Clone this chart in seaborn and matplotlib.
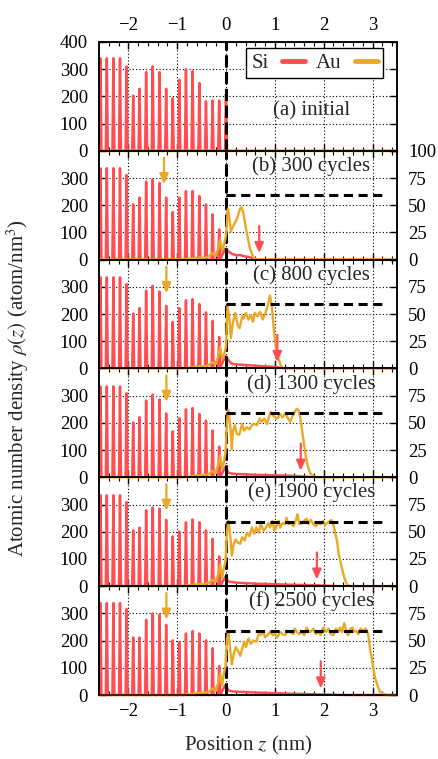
import numpy as np
import matplotlib
matplotlib.use("Agg")
import matplotlib.pyplot as plt
from matplotlib.lines import Line2D
import seaborn as sns

# ---------------------------------------------------------------------------
# Data
# ---------------------------------------------------------------------------
# Si layer positions (nm); the last layer (z = 0) only exists initially
si_layer_z = [-2.57, -2.44, -2.305, -2.17, -2.035, -1.90, -1.77, -1.635, -1.50, -1.36,
              -1.225, -1.09, -0.955, -0.82, -0.685, -0.545, -0.41, -0.275, -0.14, 0.0]

# Si peak densities per layer (atom/nm^3, left axis)
si_peaks_a = [340, 340, 340, 340, 310, 203, 228, 289, 310, 289,
              228, 193, 261, 300, 293, 249, 182, 185, 185, 209]
si_peaks_b = [336, 336, 336, 336, 311, 203, 228, 287, 295, 282,
              228, 175, 228, 252, 252, 234, 203, 166, 111]
si_peaks_c = [335, 335, 335, 335, 310, 202, 222, 286, 304, 283,
              230, 171, 222, 251, 255, 237, 206, 175, 116]
si_peaks_d = [334, 334, 334, 334, 309, 202, 221, 282, 304, 286,
              235, 169, 217, 250, 255, 233, 208, 172, 113]
si_peaks_e = [334, 334, 334, 334, 309, 205, 215, 279, 289, 285,
              244, 183, 201, 235, 245, 235, 205, 174, 109]
si_peaks_f = [338, 338, 338, 338, 316, 211, 211, 276, 300, 295,
              258, 201, 193, 226, 235, 226, 201, 172, 106]

# Si diffused into the Au film (left axis)
si_tail_z_b = [-0.02, 0.05, 0.12, 0.22, 0.29, 0.36, 0.46, 0.56, 0.65]
si_tail_rho_b = [40, 31, 21, 16, 17, 13, 10, 5, 0]
si_tail_z_c = [-0.02, 0.05, 0.12, 0.29, 0.45, 0.63, 0.80, 0.97, 1.10, 1.20]
si_tail_rho_c = [45, 31, 17, 14, 12, 10, 8, 6, 3, 0]
si_tail_z_d = [-0.02, 0.05, 0.14, 0.40, 0.63, 0.90, 1.30, 1.60, 1.80]
si_tail_rho_d = [36, 17, 13, 11, 9, 8, 6, 3, 0]
si_tail_z_e = [-0.02, 0.05, 0.20, 0.63, 1.00, 1.40, 1.90, 2.30]
si_tail_rho_e = [33, 17, 13, 9, 7, 5, 3, 0]
si_tail_z_f = [-0.02, 0.05, 0.14, 0.63, 1.30, 1.90, 2.50]
si_tail_rho_f = [35, 17, 13, 9, 5, 2, 0]

# Au density profiles (atom/nm^3, right axis)
au_z_a = [-2.6, 3.5]
au_rho_a = [0, 0]

au_z_b = [-2.6, -0.9, -0.7, -0.55, -0.45, -0.35, -0.28, -0.22, -0.16, -0.12, -0.08, -0.04,
          0.0, 0.04, 0.07, 0.10, 0.15, 0.22, 0.29, 0.32, 0.35, 0.42, 0.49, 0.56, 0.62, 3.5]
au_rho_b = [0, 0, 1, 2, 1.5, 3, 6, 3, 10, 18, 8, 14,
            22, 47, 38, 26, 31, 37, 47, 48, 44, 26, 10, 2, 0, 0]

au_z_c = [-2.6, -0.9, -0.7, -0.55, -0.45, -0.35, -0.28, -0.22, -0.16, -0.12,
          -0.08, -0.05, 0.0, 0.03, 0.07, 0.10, 0.14, 0.19, 0.24, 0.28,
          0.33, 0.36, 0.41, 0.46, 0.51, 0.55, 0.59, 0.64, 0.70, 0.75,
          0.80, 0.85, 0.90, 0.94, 0.98, 1.02, 1.07, 1.12, 1.17, 3.5]
au_rho_c = [0, 0, 1, 2, 2, 3, 6, 4, 11, 20,
            9, 11, 20, 57, 45, 28, 42, 51, 40, 37,
            48, 46, 51, 45, 49, 43, 51, 48, 52, 45,
            50, 57, 67, 57, 35, 20, 9, 3, 0, 0]

au_z_d = [-2.6, -0.9, -0.7, -0.55, -0.45, -0.35, -0.28, -0.22, -0.16, -0.12,
          -0.08, -0.05, -0.01, 0.02, 0.05, 0.09, 0.12, 0.14, 0.18, 0.22,
          0.27, 0.33, 0.37, 0.43, 0.48, 0.53, 0.58, 0.63, 0.69, 0.73,
          0.78, 0.84, 0.89, 0.92, 0.96, 1.01, 1.05, 1.11, 1.16, 1.21,
          1.26, 1.31, 1.35, 1.39, 1.45, 1.48, 1.52, 1.57, 1.62, 1.67,
          1.72, 1.79, 1.86, 3.5]
au_rho_d = [0, 0, 1, 2, 2, 3, 6, 4, 11, 20,
            8, 12, 23, 51, 62, 45, 26, 42, 48, 40,
            39, 49, 43, 46, 44, 48, 49, 48, 54, 51,
            54, 49, 57, 60, 57, 55, 54, 58, 55, 59,
            55, 51, 55, 59, 63, 62, 55, 39, 23, 11,
            4, 1, 0, 0]

au_z_e = [-2.6, -0.9, -0.7, -0.55, -0.45, -0.35, -0.28, -0.22, -0.16, -0.12,
          -0.08, -0.05, -0.01, 0.02, 0.05, 0.09, 0.12, 0.16, 0.20, 0.24,
          0.29, 0.33, 0.38, 0.43, 0.48, 0.53, 0.58, 0.62, 0.67, 0.71,
          0.77, 0.82, 0.87, 0.90, 0.95, 0.99, 1.03, 1.08, 1.11, 1.16,
          1.21, 1.24, 1.28, 1.33, 1.38, 1.44, 1.46, 1.50, 1.55, 1.60,
          1.65, 1.69, 1.73, 1.79, 1.84, 1.89, 1.94, 1.99, 2.03, 2.07,
          2.13, 2.16, 2.21, 2.27, 2.31, 2.37, 2.42, 2.47, 2.54, 3.5]
au_rho_e = [0, 0, 1, 2, 2, 3, 6, 4, 11, 20,
            8, 15, 23, 51, 60, 45, 28, 39, 43, 40,
            39, 45, 42, 49, 46, 54, 48, 54, 49, 57,
            51, 54, 58, 54, 60, 51, 55, 60, 54, 58,
            57, 63, 57, 58, 55, 62, 66, 57, 58, 60,
            62, 57, 61, 57, 55, 58, 57, 60, 56, 58,
            60, 61, 54, 42, 29, 17, 8, 2, 0, 0]

au_z_f = [-2.6, -0.9, -0.7, -0.55, -0.45, -0.35, -0.28, -0.22, -0.16, -0.12,
          -0.08, -0.05, -0.01, 0.02, 0.05, 0.09, 0.12, 0.16, 0.20, 0.24,
          0.29, 0.33, 0.37, 0.41, 0.46, 0.51, 0.56, 0.62, 0.67, 0.71,
          0.76, 0.80, 0.85, 0.90, 0.96, 1.01, 1.05, 1.11, 1.16, 1.21,
          1.26, 1.31, 1.37, 1.41, 1.45, 1.50, 1.55, 1.60, 1.65, 1.69,
          1.73, 1.79, 1.84, 1.89, 1.94, 1.99, 2.05, 2.10, 2.14, 2.20,
          2.25, 2.30, 2.33, 2.37, 2.42, 2.46, 2.50, 2.55, 2.59, 2.62,
          2.66, 2.71, 2.76, 2.81, 2.86, 2.91, 2.95, 2.98, 3.01, 3.05,
          3.10, 3.15, 3.22, 3.29, 3.5]
au_rho_f = [0, 0, 1, 2, 2, 3, 6, 4, 11, 20,
            9, 18, 27, 52, 58, 40, 28, 38, 44, 41,
            36, 42, 49, 44, 52, 47, 50, 49, 56, 55,
            58, 53, 55, 58, 55, 56, 53, 58, 56, 55,
            59, 58, 56, 61, 58, 56, 58, 55, 62, 59,
            58, 61, 56, 58, 55, 62, 58, 61, 56, 55,
            61, 58, 62, 58, 66, 59, 55, 61, 62, 58,
            59, 56, 61, 59, 61, 56, 42, 35, 26, 16,
            9, 3, 1, 0, 0]

panel_labels = ["(a) initial", "(b) 300 cycles", "(c) 800 cycles",
                "(d) 1300 cycles", "(e) 1900 cycles", "(f) 2500 cycles"]

# Markers: Au penetration depth in Si and Si front in Au (nm)
au_marker_z = [None, -1.27, -1.22, -1.22, -1.22, -1.22]
si_front_z = [None, 0.68, 1.05, 1.53, 1.86, 1.94]

au_bulk_density = 59  # atom/nm^3, bulk Au reference (right axis)
au_bulk_extent = [0.0, 3.25]

# ---------------------------------------------------------------------------
# Style
# ---------------------------------------------------------------------------
sns.set_theme(style="ticks")
plt.rcParams["font.family"] = ["Liberation Serif", "DejaVu Serif"]
plt.rcParams["mathtext.fontset"] = "stix"
plt.rcParams["axes.linewidth"] = 1.1

SI_COLOR = "#ff4d52"
AU_COLOR = "#e9a825"
TICK_FS = 13.5
LABEL_FS = 15

Z_MIN, Z_MAX = -2.6, 3.5


def si_profile(peaks, tail_z, tail_rho, half_width=0.02):
    """Build the Si density line from layer peaks plus the diffused tail."""
    z, rho = [Z_MIN], [0.0]
    for zc, h in zip(si_layer_z, peaks):
        z += [zc - half_width, zc, zc + half_width]
        rho += [0.0, h, 0.0]
    z += list(tail_z) + [Z_MAX]
    rho += list(tail_rho) + [0.0]
    return np.array(z), np.array(rho)


si_series = [
    si_profile(si_peaks_a, [], []),
    si_profile(si_peaks_b, si_tail_z_b, si_tail_rho_b),
    si_profile(si_peaks_c, si_tail_z_c, si_tail_rho_c),
    si_profile(si_peaks_d, si_tail_z_d, si_tail_rho_d),
    si_profile(si_peaks_e, si_tail_z_e, si_tail_rho_e),
    si_profile(si_peaks_f, si_tail_z_f, si_tail_rho_f),
]
au_series = [(au_z_a, au_rho_a), (au_z_b, au_rho_b), (au_z_c, au_rho_c),
             (au_z_d, au_rho_d), (au_z_e, au_rho_e), (au_z_f, au_rho_f)]

fig, axes = plt.subplots(6, 1, figsize=(4.39, 7.59), dpi=100, sharex=True)
fig.subplots_adjust(left=0.2255, right=0.9043, top=0.9447, bottom=0.0843, hspace=0)

arrow_style = "-|>,head_length=0.5,head_width=0.22"

for i, ax in enumerate(axes):
    si_z, si_rho = si_series[i]
    au_z, au_rho = au_series[i]

    ax.set_xlim(Z_MIN, Z_MAX)
    ax.set_ylim(0, 400)
    ax.set_facecolor("white")

    # dotted grid
    ax.grid(True, which="major", color="black", linestyle=(0, (1, 2)), linewidth=0.8)
    ax.set_axisbelow(True)

    sns.lineplot(x=si_z, y=si_rho, ax=ax, color=SI_COLOR, linewidth=1.8,
                 estimator=None, sort=False, legend=False, clip_on=False, zorder=2)

    # interface
    ax.axvline(0, color="black", linewidth=2.2, linestyle=(0, (4, 1.5)), zorder=3)

    ax.set_xticks([-2, -1, 0, 1, 2, 3])
    ax.set_xticks(np.arange(-2.6, 3.5001, 0.2), minor=True)
    ax.set_yticks([0, 100, 200, 300, 400])
    if i == 0:
        ax.set_yticklabels(["0", "100", "200", "300", "400"])
    else:
        ax.set_yticklabels(["0", "100", "200", "300", ""])
    ax.tick_params(axis="both", which="both", direction="in", top=True, bottom=True,
                   left=True, right=True, labelsize=TICK_FS, colors="black")
    ax.tick_params(axis="x", which="major", length=5, width=1)
    ax.tick_params(axis="x", which="minor", length=3, width=0.8)
    ax.tick_params(axis="y", which="major", length=5, width=1, pad=8)
    ax.tick_params(axis="x", which="major", pad=6,
                   labeltop=(i == 0), labelbottom=(i == len(axes) - 1))
    for sp in ax.spines.values():
        sp.set_color("black")
        sp.set_linewidth(1.1)
        sp.set_zorder(4)

    # Au on the right-hand axis
    ax2 = ax.twinx()
    ax2.set_ylim(0, 100)
    ax2.set_yticks([0, 25, 50, 75, 100])
    if i == 0:
        ax2.set_yticklabels([""] * 5)
    elif i == 1:
        ax2.set_yticklabels(["0", "25", "50", "75", "100"])
    else:
        ax2.set_yticklabels(["0", "25", "50", "75", ""])
    ax2.tick_params(axis="y", direction="in", length=5, width=1, pad=8,
                    labelsize=TICK_FS, colors="black")
    for sp in ax2.spines.values():
        sp.set_color("black")
        sp.set_linewidth(1.1)
        sp.set_zorder(4)
    ax2.grid(False)

    sns.lineplot(x=au_z, y=au_rho, ax=ax2, color=AU_COLOR, linewidth=1.7,
                 estimator=None, sort=False, legend=False, clip_on=False, zorder=2)

    if i > 0:
        ax2.plot(au_bulk_extent, [au_bulk_density] * 2, color="black", linewidth=2.2,
                 linestyle=(0, (3, 1.8)), zorder=3)
        ax.annotate("", xy=(au_marker_z[i], 277), xytext=(au_marker_z[i], 375),
                    arrowprops=dict(arrowstyle=arrow_style, color=AU_COLOR, lw=1.6,
                                    shrinkA=0, shrinkB=0, mutation_scale=12), zorder=5)
        ax2.annotate("", xy=(si_front_z[i], 6), xytext=(si_front_z[i], 31),
                     arrowprops=dict(arrowstyle=arrow_style, color=SI_COLOR, lw=1.6,
                                     shrinkA=0, shrinkB=0, mutation_scale=12), zorder=5)
        ax2.text(0.713, 0.86, panel_labels[i], transform=ax2.transAxes,
                 ha="center", va="center", fontsize=LABEL_FS, zorder=6)
    else:
        ax2.text(0.715, 0.37, panel_labels[i], transform=ax2.transAxes,
                 ha="center", va="center", fontsize=LABEL_FS, zorder=6)
        handles = [Line2D([], [], color=SI_COLOR, linewidth=3.5),
                   Line2D([], [], color=AU_COLOR, linewidth=3.5)]
        leg = ax2.legend(handles, ["Si", "Au"], ncol=2, markerfirst=False,
                         loc="upper right", bbox_to_anchor=(0.953, 0.944),
                         frameon=True, fancybox=False, framealpha=1,
                         edgecolor="black", fontsize=LABEL_FS, borderpad=0.25,
                         handlelength=1.1, handletextpad=0.65, columnspacing=0.5,
                         borderaxespad=0)
        leg.get_frame().set_linewidth(1.0)

fig.text(18 / 439, 1 - 388 / 759, r"Atomic number density $\rho(z)$ (atom/nm$^3$)",
         rotation=90, ha="center", va="center", fontsize=LABEL_FS)
fig.text(248 / 439, 1 - 745 / 759, r"Position $z$ (nm)",
         ha="center", va="center", fontsize=LABEL_FS)

fig.savefig("out.png", dpi=100, facecolor="white")
